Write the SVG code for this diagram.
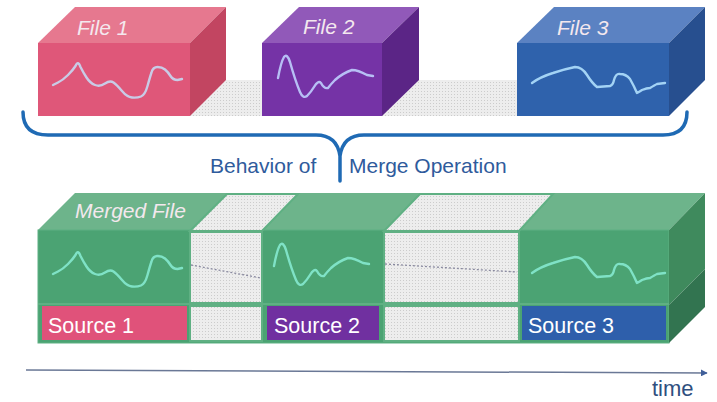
<svg xmlns="http://www.w3.org/2000/svg" width="717" height="402" viewBox="0 0 717 402">
<defs>
<pattern id="dots" width="3" height="3" patternUnits="userSpaceOnUse">
<rect width="3" height="3" fill="#ededed"/>
<rect x="1" y="1" width="1" height="1" fill="#cccccc"/>
</pattern>
<marker id="arr" viewBox="0 0 10 10" refX="9" refY="5" markerWidth="7" markerHeight="7" orient="auto" markerUnits="userSpaceOnUse">
<path d="M0,0 L10,5 L0,10 z" fill="#3f5f9a"/>
</marker>
<path id="w1" d="M53,85 L58,82.5 Q63,80 68,75 Q73,70 75.5,66 Q78,60 80.5,67 Q83,72 86.5,77.5 Q90,83 95,85 Q100,87 105,83.5 Q110,80 113.5,82.5 Q117,85 122,91 Q127,97 132,97.5 Q137,98 141,96.5 Q145,95 147.5,86 Q150,77 151.5,72.5 Q153,67 157.5,67 Q162,67 165,69.5 Q168,72 170.5,76 Q173,80 177.5,80 L182,79"/>
<path id="w2" d="M278,78 Q281,62 284,57 Q287,53 290,62 Q295,80 300,92 Q303,99 307,96 Q311,92 314,87 Q318,80 321,83 Q324,89 328,88 Q331,84 335,80 Q343,73 352,70 Q358,70 367,75 L373,76"/>
<path id="w3" d="M532,83 Q540,77 553,73 Q565,69 575,67 Q582,67 587,75 Q592,83 597,87 L610,86 Q613,85 614,80 Q616,73 620,74 Q626,74 630,79 Q634,86 637,93 Q639,92 642,90 Q647,88 650,88 Q655,85 657,84 L665,83"/>
<style>
.lbl{font-family:"Liberation Sans",Arial,sans-serif;font-size:21px;font-style:italic;fill:#f4e8ee}
.src{font-family:"Liberation Sans",Arial,sans-serif;font-size:21.5px;fill:#ffffff}
.cap{font-family:"Liberation Sans",Arial,sans-serif;font-size:21px;fill:#2f5b9c}
.wave{fill:none;stroke-width:2.4;stroke-linejoin:round;stroke-linecap:round}
.gap{fill:url(#dots);stroke:#5fb083;stroke-width:2}
.dotline{stroke:#8a8aa0;stroke-width:1.3;stroke-dasharray:2 2;fill:none}
</style>
</defs>
<rect width="717" height="402" fill="#ffffff"/>

<polygon points="190,116 226,80 517,80 517,116" fill="url(#dots)"/>

<g id="file1">
<polygon points="38,43 75,7 226,7 190,43" fill="#e6788f"/>
<rect x="38" y="43" width="152" height="73" fill="#df5779"/>
<polygon points="190,43 226,7 226,80 190,116" fill="#c24561"/>
<text class="lbl" x="77" y="35">File 1</text>
<use href="#w1" class="wave" stroke="#c9cbe6"/>
</g>

<g id="file2">
<polygon points="262,43 299,7 419,7 382,43" fill="#9159b9"/>
<rect x="262" y="43" width="120" height="73" fill="#7533a6"/>
<polygon points="382,43 419,7 419,80 382,116" fill="#5b2586"/>
<text class="lbl" x="303" y="34">File 2</text>
<use href="#w2" class="wave" stroke="#b7bff5"/>
</g>

<g id="file3">
<polygon points="517,43 554,7 705,7 669,43" fill="#5b82c2"/>
<rect x="517" y="43" width="152" height="73" fill="#2f62ac"/>
<polygon points="669,43 705,7 705,80 669,116" fill="#274f8f"/>
<text class="lbl" x="557" y="35">File 3</text>
<use href="#w3" class="wave" stroke="#a3d3f5"/>
</g>

<g id="brace">
<path d="M23,112 Q23,135 48,135 L316,135 Q337,135 340,156 L340,181 M340,156 Q343,135 364,135 L663,135 Q687,135 687,112" fill="none" stroke="#1f6ab4" stroke-width="3.5" stroke-linecap="round" stroke-linejoin="round"/>
</g>
<text class="cap" x="210" y="173">Behavior of</text>
<text class="cap" x="349" y="173" font-size="21.5">Merge Operation</text>

<g id="merged">
<polygon points="38,230 75,193 705,193 669,230" fill="#6db48b"/>
<rect x="38" y="230" width="631" height="113" fill="#4ba373" stroke="#5fb083" stroke-width="1"/>
<polygon points="669,230 705,193 705,269 669,305" fill="#3f8a5d"/>
<polygon points="669,305 705,269 705,307 669,343" fill="#327450"/>
<line x1="38" y1="304" x2="669" y2="304" stroke="#5fb083" stroke-width="2"/>
<text class="lbl" x="75" y="218">Merged File</text>

<polygon class="gap" points="190,231 227,194 298,194 262,231"/>
<rect class="gap" x="190" y="232" width="72" height="71"/>
<rect class="gap" x="190" y="306" width="72" height="35"/>
<polygon class="gap" points="384,231 420,194 553,194 519,231"/>
<rect class="gap" x="384" y="232" width="135" height="71"/>
<rect class="gap" x="384" y="306" width="135" height="35"/>
<line class="dotline" x1="191" y1="265" x2="261" y2="278"/>
<line class="dotline" x1="385" y1="264" x2="517" y2="272"/>

<use href="#w1" class="wave" stroke="#7fe2c6" transform="translate(0,189)"/>
<use href="#w2" class="wave" stroke="#7fe2c6" transform="translate(-4,188)"/>
<use href="#w3" class="wave" stroke="#7fe2c6" transform="translate(0,190)"/>
</g>

<g id="source1">
<rect x="42" y="306" width="145" height="34" fill="#e0527a"/>
<text class="src" x="48" y="333">Source 1</text>
</g>
<g id="source2">
<rect x="267" y="306" width="112" height="34" fill="#7030a0"/>
<text class="src" x="274" y="333">Source 2</text>
</g>
<g id="source3">
<rect x="522" y="306" width="144" height="34" fill="#2e5fab"/>
<text class="src" x="528" y="333">Source 3</text>
</g>

<g id="connectors">
<line x1="26" y1="370" x2="707" y2="373" stroke="#6a7896" stroke-width="1.5" marker-end="url(#arr)"/>
</g>
<text x="652" y="396" font-family="Liberation Sans, Arial, sans-serif" font-size="22" fill="#2f4f80">time</text>
</svg>
